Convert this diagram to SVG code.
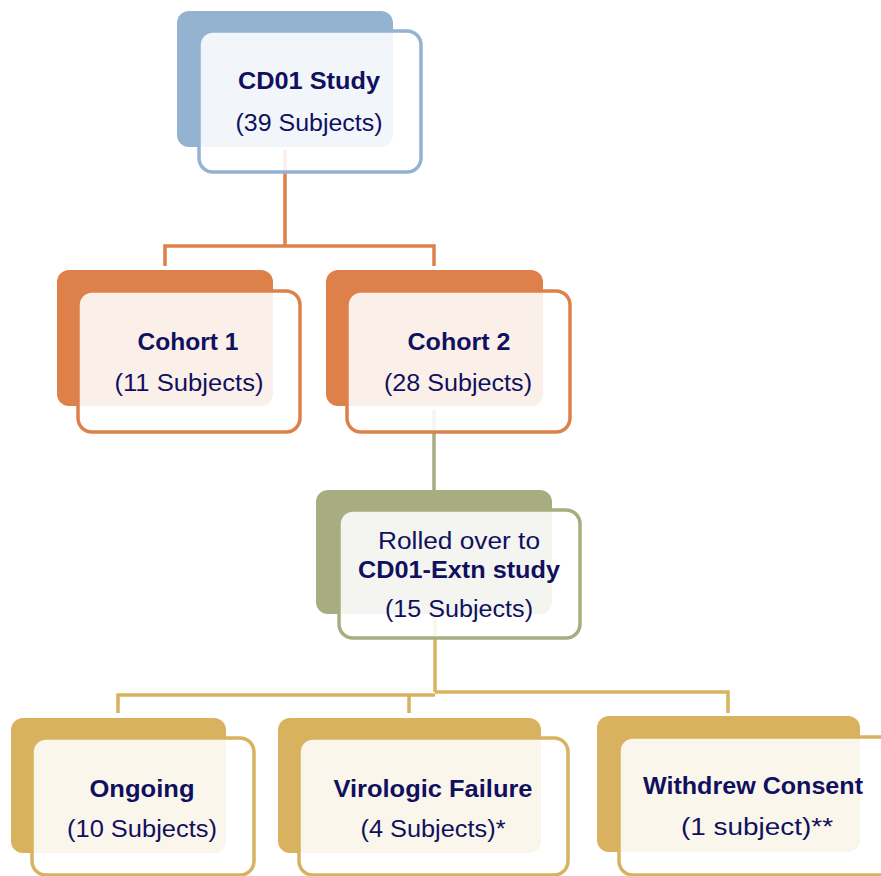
<svg xmlns="http://www.w3.org/2000/svg" width="881" height="876" viewBox="0 0 881 876">
<style>
.t{font-family:"Liberation Sans",Arial,sans-serif;font-size:23px;fill:#10105E;text-anchor:middle}
.b{font-weight:bold}
.front{fill:#FFFFFF;fill-opacity:0.88;stroke-width:3.5}
.conn{fill:none;stroke-width:3.5}
</style>
<rect width="881" height="876" fill="#FFFFFF"/>
<g id="connectors">
<path class="conn" stroke="#DE804A" d="M285,150 V246 M165,266 V246 H434 V266"/>
<path class="conn" stroke="#A7AD80" d="M434,410 V490"/>
<path class="conn" stroke="#D8B25F" d="M435,614 V692 M118,713 V695 H435 M435,692 H728 V713 M409,713 V695"/>
</g>
<g id="node-cd01">
<rect x="177" y="11" width="216" height="136" rx="12" fill="#93B3D1"/>
<rect class="front" x="199" y="31" width="222" height="141" rx="14" stroke="#93B3D1"/>
<text class="t b" x="309" y="89" textLength="142" lengthAdjust="spacingAndGlyphs">CD01 Study</text>
<text class="t" x="309" y="131" textLength="147" lengthAdjust="spacingAndGlyphs">(39 Subjects)</text>
</g>
<g id="node-cohort1">
<rect x="57" y="270" width="216" height="136" rx="12" fill="#DE804A"/>
<rect class="front" x="78" y="291" width="222" height="141" rx="14" stroke="#DE804A"/>
<text class="t b" x="188" y="350" textLength="101" lengthAdjust="spacingAndGlyphs">Cohort 1</text>
<text class="t" x="189" y="391" textLength="149" lengthAdjust="spacingAndGlyphs">(11 Subjects)</text>
</g>
<g id="node-cohort2">
<rect x="326" y="270" width="217" height="136" rx="12" fill="#DE804A"/>
<rect class="front" x="347" y="291" width="223" height="141" rx="14" stroke="#DE804A"/>
<text class="t b" x="459" y="350" textLength="103" lengthAdjust="spacingAndGlyphs">Cohort 2</text>
<text class="t" x="458" y="391" textLength="148" lengthAdjust="spacingAndGlyphs">(28 Subjects)</text>
</g>
<g id="node-extn">
<rect x="316" y="490" width="236" height="124" rx="12" fill="#A7AD80"/>
<rect class="front" x="339" y="510" width="241" height="128" rx="14" stroke="#A7AD80"/>
<text class="t" x="459" y="549" textLength="162" lengthAdjust="spacingAndGlyphs">Rolled over to</text>
<text class="t b" x="459" y="578" textLength="202" lengthAdjust="spacingAndGlyphs">CD01-Extn study</text>
<text class="t" x="459" y="617" textLength="148" lengthAdjust="spacingAndGlyphs">(15 Subjects)</text>
</g>
<g id="node-ongoing">
<rect x="11" y="718" width="215" height="135" rx="12" fill="#D8B25F"/>
<rect class="front" x="32" y="738" width="222" height="137" rx="14" stroke="#D8B25F"/>
<text class="t b" x="142" y="797" textLength="105" lengthAdjust="spacingAndGlyphs">Ongoing</text>
<text class="t" x="142" y="837" textLength="150" lengthAdjust="spacingAndGlyphs">(10 Subjects)</text>
</g>
<g id="node-virologic">
<rect x="278" y="718" width="263" height="135" rx="12" fill="#D8B25F"/>
<rect class="front" x="299" y="738" width="269" height="137" rx="14" stroke="#D8B25F"/>
<text class="t b" x="433" y="797" textLength="199" lengthAdjust="spacingAndGlyphs">Virologic Failure</text>
<text class="t" x="433" y="837" textLength="145" lengthAdjust="spacingAndGlyphs">(4 Subjects)*</text>
</g>
<g id="node-withdrew">
<rect x="597" y="716" width="263" height="136" rx="12" fill="#D8B25F"/>
<rect class="front" x="619" y="737" width="275" height="138" rx="14" stroke="#D8B25F"/>
<text class="t b" x="753" y="794" textLength="220" lengthAdjust="spacingAndGlyphs">Withdrew Consent</text>
<text class="t" x="757" y="835" textLength="152" lengthAdjust="spacingAndGlyphs">(1 subject)**</text>
</g>
</svg>
